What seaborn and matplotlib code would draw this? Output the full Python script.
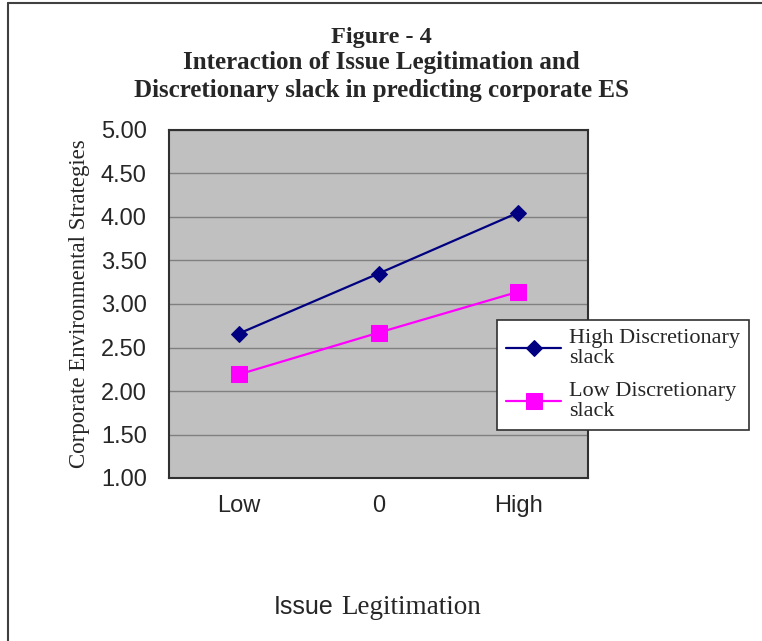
import pandas as pd
import matplotlib.pyplot as plt
import seaborn as sns
from matplotlib.lines import Line2D

# Data
levels = ['Low', '0', 'High']
high_slack = [2.66, 3.35, 4.05]
low_slack = [2.19, 2.67, 3.14]
series_names = ['High Discretionary\nslack', 'Low Discretionary\nslack']
y_ticks = [1.00, 1.50, 2.00, 2.50, 3.00, 3.50, 4.00, 4.50, 5.00]

df = pd.DataFrame({
    'level': levels * 2,
    'score': high_slack + low_slack,
    'group': [series_names[0]] * 3 + [series_names[1]] * 3,
})
df['pos'] = df['level'].map({lv: i for i, lv in enumerate(levels)})

sns.set_style('white')
serif = 'Liberation Serif'
sans = 'Liberation Sans'

fig = plt.figure(figsize=(7.62, 6.41), dpi=100)
ax = fig.add_axes([169 / 762, 1 - 478 / 641, 419 / 762, 348 / 641])
ax.set_facecolor('#c0c0c0')

# One lineplot per series so each keeps its own marker size
sns.lineplot(data=df[df['group'] == series_names[0]], x='pos', y='score',
             color='#000080', marker='D', markersize=8, linewidth=1.6,
             markeredgecolor='#000080', ax=ax, label=series_names[0])
sns.lineplot(data=df[df['group'] == series_names[1]], x='pos', y='score',
             color='#ff00ff', marker='s', markersize=11, linewidth=1.6,
             markeredgecolor='#ff00ff', ax=ax, label=series_names[1])

ax.set_xlim(-0.5, 2.5)
ax.set_ylim(1, 5)
ax.set_xticks(range(len(levels)))
ax.set_xticklabels(levels, fontfamily=sans, fontsize=17)
ax.set_yticks(y_ticks)
ax.set_yticklabels([f'{v:.2f}' for v in y_ticks], fontfamily=sans, fontsize=17)
ax.tick_params(axis='y', length=0, pad=16)
ax.tick_params(axis='x', length=0, pad=12)
ax.grid(axis='y', color='#808080', linewidth=1)
ax.set_axisbelow(True)
for s in ax.spines.values():
    s.set_color('#303030')
    s.set_linewidth(1.5)

ax.set_xlabel('')
ax.set_ylabel('Corporate Environmental Strategies', fontfamily=serif, fontsize=16.5, labelpad=8)

# Title
fig.text(0.5, 1 - 37 / 641, 'Figure - 4', ha='center', va='center',
         fontfamily=serif, fontweight='bold', fontsize=17.5)
fig.text(0.5, 1 - 63 / 641, 'Interaction of Issue Legitimation and', ha='center', va='center',
         fontfamily=serif, fontweight='bold', fontsize=18)
fig.text(0.5, 1 - 91 / 641, 'Discretionary slack in predicting corporate ES', ha='center', va='center',
         fontfamily=serif, fontweight='bold', fontsize=18)

# X axis title mixes a sans and a serif word
fig.text(334 / 762, 1 - 607 / 641, 'Issue', ha='right', va='center', fontfamily=sans, fontsize=18)
fig.text(341 / 762, 1 - 607 / 641, 'Legitimation', ha='left', va='center', fontfamily=serif, fontsize=19.5)

leg = ax.legend(loc='upper left', bbox_to_anchor=(497 / 762, 1 - 320 / 641),
                bbox_transform=fig.transFigure, frameon=True, fancybox=False,
                prop={'family': serif, 'size': 16}, handlelength=2.5,
                borderpad=0.4, labelspacing=0.6, handletextpad=0.35,
                borderaxespad=0)
for t in leg.get_texts():
    t.set_linespacing(1.1)
leg.get_frame().set_edgecolor('#303030')
leg.get_frame().set_linewidth(1.2)
leg.get_frame().set_alpha(1)

# Page border (left and top edges of the cropped frame)
fig.add_artist(Line2D([8 / 762, 8 / 762], [0, 1 - 3 / 641], transform=fig.transFigure,
                      color='#404040', linewidth=1.5))
fig.add_artist(Line2D([8 / 762, 1], [1 - 3 / 641, 1 - 3 / 641], transform=fig.transFigure,
                      color='#404040', linewidth=1.5))

fig.savefig('out.png', dpi=100)
